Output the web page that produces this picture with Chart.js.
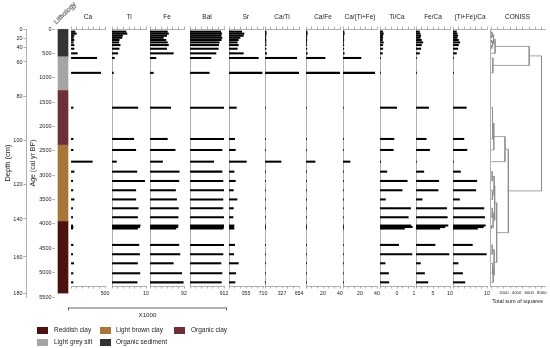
<!DOCTYPE html>
<html>
<head>
<meta charset="utf-8">
<script src="https://cdn.jsdelivr.net/npm/chart.js@4.4.1/dist/chart.umd.min.js"></script>
<style>
 body { margin: 0; background: #fff; overflow: hidden; }
 #page { position: relative; width: 550px; height: 348px; overflow: hidden; font-family: "Liberation Sans", Arial, sans-serif; color: #222; }
 #page canvas { position: absolute; top: 0; }
 .txt { position: absolute; white-space: nowrap; }
 .sw { position: absolute; width: 11px; height: 7px; }
</style>
</head>
<body>
<div id="page"></div>
<script>
// sample ages (cal yr BP)
const ages = [55, 95, 138, 180, 225, 275, 330, 405, 500, 595, 900, 1615, 2257, 2483, 2723, 2928, 3119, 3310, 3498, 3680, 3864, 4035, 4065, 4095, 4432, 4623, 4809, 5014, 5200];

const ca = [59, 78, 44, 34, 44, 34, 44, 44, 93, 378, 437, 30, 30, 30, 313, 45, 25, 28, 45, 25, 25, 25, 30, 25, 30, 25, 40, 30, 30];
const ti = [4.1, 4.4, 3.1, 2.9, 2.1, 2.0, 2.4, 2.1, 1.7, 0.7, 0.4, 7.6, 6.4, 7.0, 1.3, 7.3, 9.6, 7.0, 7.0, 7.7, 7.5, 8.3, 8.1, 7.5, 7.9, 8.1, 7.5, 8.2, 7.4];
const fe = [47, 50, 45, 36, 43, 47, 50, 45, 63, 16, 9, 56, 47, 68, 34, 79, 78, 69, 72, 77, 76, 76, 75, 70, 78, 81, 63, 86, 90];
const bal = [823, 850, 831, 858, 839, 785, 769, 758, 697, 563, 517, 903, 903, 858, 635, 858, 884, 912, 884, 884, 903, 903, 903, 890, 903, 884, 831, 858, 840];
const sr = [265, 313, 299, 230, 194, 173, 194, 173, 299, 612, 690, 153, 118, 132, 362, 105, 132, 91, 167, 91, 84, 105, 98, 105, 118, 98, 195, 140, 125];
const caTi = [20, 25, 18, 15, 20, 18, 20, 20, 30, 609, 654, 4, 5, 5, 308, 6, 3, 4, 6, 3, 3, 3, 4, 3, 4, 3, 5, 4, 4];
const caFe = [1.3, 1.6, 1.0, 0.9, 1.0, 0.8, 0.9, 1.0, 1.5, 22.4, 40, 0.5, 0.6, 0.5, 10.6, 0.6, 0.4, 0.4, 0.6, 0.4, 0.4, 0.4, 0.4, 0.4, 0.4, 0.4, 0.6, 0.4, 0.4];
const caTiFe = [1.2, 1.5, 0.9, 0.9, 1.0, 0.7, 0.9, 0.9, 1.4, 21.2, 37.3, 0.5, 0.6, 0.5, 8.2, 0.5, 0.3, 0.4, 0.6, 0.3, 0.3, 0.3, 0.4, 0.3, 0.4, 0.3, 0.6, 0.4, 0.4];
const tiCa = [0.08, 0.1, 0.08, 0.08, 0.07, 0.1, 0.08, 0.08, 0.07, 0.01, 0.01, 0.49, 0.41, 0.39, 0.02, 0.2, 0.8, 0.65, 0.16, 0.9, 0.83, 0.91, 0.95, 0.72, 0.55, 0.94, 0.15, 0.25, 0.26];
const feCa = [1.0, 1.2, 1.4, 1.2, 1.6, 2.0, 1.6, 1.4, 1.0, 0.05, 0.05, 3.7, 3.0, 4.0, 0.1, 2.3, 6.7, 6.5, 1.8, 9.0, 9.2, 9.4, 8.5, 7.0, 5.6, 9.7, 1.3, 2.5, 3.5];
const tiFeCa = [1.0, 1.2, 1.4, 1.2, 1.6, 2.0, 1.6, 1.4, 1.0, 0.05, 0.05, 3.9, 3.2, 4.1, 0.1, 2.2, 7.0, 6.7, 1.9, 9.1, 9.3, 9.5, 8.9, 7.2, 5.7, 9.8, 1.5, 2.8, 3.5];

const panelNames = ["Ca", "Ti", "Fe", "Bal", "Sr", "Ca/Ti", "Ca/Fe", "Ca/(Ti+Fe)", "Ti/Ca", "Fe/Ca", "(Ti+Fe)/Ca"];
const panelSeries = [ca, ti, fe, bal, sr, caTi, caFe, caTiFe, tiCa, feCa, tiFeCa];
const panelMax = [500, 10, 92, 912, 710, 654, 40, 40, 1, 10, 10];
const panelTickVals = [[500], [10], [92], [912], [355, 710], [327, 654], [20, 40], [20, 40], [0.5, 1], [5, 10], [10]];
const panelTickText = [["500"], ["10"], ["92"], ["912"], ["355", "710"], ["327", "654"], ["20", "40"], ["20", "40"], ["0", "1"], ["5", "10"], ["10"]];

// CONISS: [child a, child b, total sum of squares]; leaves are sample indices, merges get 29, 30, ...
const conissMerges = [
 [0, 1, 60], [2, 3, 80], [29, 30, 150], [4, 5, 70], [6, 7, 90], [32, 33, 200], [31, 34, 350],
 [35, 8, 600], [9, 10, 250], [36, 37, 6000],
 [11, 12, 200], [39, 13, 400], [40, 14, 2170],
 [15, 16, 150], [17, 18, 180], [42, 43, 450], [21, 22, 50], [45, 23, 80], [19, 20, 150],
 [47, 46, 300], [44, 48, 550], [24, 25, 150], [26, 27, 200], [51, 28, 300], [50, 52, 450],
 [49, 53, 860], [41, 54, 2700], [38, 55, 7950]
];
const conissTickVals = [2000, 4000, 6000, 8000];

const ageTickStep = 500;
const depthLabels = [0, 20, 40, 60, 80, 100, 120, 140, 160, 180];
const depthAges = [0, 185, 370, 677, 1395, 2298, 3181, 3899, 4679, 5438];

const lithoNames = ["Organic sediment", "Light grey silt", "Organic clay", "Light brown clay", "Reddish clay"];
const lithoTop = [0, 555, 1250, 2370, 3940];
const lithoBottom = [555, 1250, 2370, 3940, 5420];
const lithoColors = ["#333333", "#a5a5a5", "#6d3038", "#a8763a", "#4a1210"];

// layout
const AXIS = "#9a9a9a";
const PANEL_TOP = 29, PANEL_BOTTOM = 286, PANEL_AGE_MAX = 5275;
const panelLeft = [71, 112, 150, 190, 229, 265, 306, 343, 380, 416, 453];
const panelWidth = 34;

Chart.defaults.font.family = '"Liberation Sans", Arial, sans-serif';
Chart.defaults.color = "#222";

const page = document.getElementById("page");

function addCanvas(left, width) {
 const c = document.createElement("canvas");
 c.width = width;
 c.height = 348;
 c.style.left = left + "px";
 c.style.width = width + "px";
 c.style.height = "348px";
 page.appendChild(c);
 return c;
}

function addText(text, left, top, size, extra) {
 const d = document.createElement("div");
 d.className = "txt";
 d.textContent = text;
 d.style.left = left + "px";
 d.style.top = top + "px";
 d.style.fontSize = size + "px";
 d.style.lineHeight = size + 1 + "px";
 if (extra) Object.assign(d.style, extra);
 page.appendChild(d);
 return d;
}

function xAxis(o, pos) {
 const labelOf = (v) => {
  const k = o.labelVals.findIndex((l) => Math.abs(l - v) < 1e-6 * (o.max - o.min));
  return k < 0 ? "" : o.labelTexts[k];
 };
 const ax = {
  type: "linear",
  position: pos,
  min: o.min,
  max: o.max,
  offset: false,
  afterBuildTicks: (s) => {
   s.ticks = o.tickVals.map((v) => ({ value: v }));
  },
  grid: { drawOnChartArea: false, tickLength: 2.5, color: AXIS, lineWidth: 0.8, offset: false },
  border: { color: AXIS, width: 0.8 },
 };
 if (pos === "bottom") {
  ax.ticks = { autoSkip: false, maxRotation: 0, font: { size: o.tickFont }, color: "#222", padding: 2, callback: (v) => labelOf(v) };
  ax.afterFit = (s) => { s.height = 348 - PANEL_BOTTOM; s.paddingLeft = 0; s.paddingRight = 0; };
 } else {
  ax.ticks = { display: false };
  ax.title = { display: true, text: o.title, font: { size: 6.5 }, color: "#222", padding: { top: 13, bottom: 0 } };
  ax.afterFit = (s) => { s.height = PANEL_TOP; s.paddingLeft = 0; s.paddingRight = 0; };
 }
 return ax;
}

function makePanel(o) {
 const pad = 12;
 const canvas = addCanvas(o.left - pad, o.width + 2 * pad);
 return new Chart(canvas, {
  type: o.type,
  data: { datasets: o.datasets },
  options: {
   responsive: false,
   animation: false,
   indexAxis: o.type === "bar" ? "y" : "x",
   layout: { padding: { left: pad, right: pad, top: 0, bottom: 0 } },
   plugins: { legend: { display: false }, tooltip: { enabled: false } },
   scales: {
    x: xAxis(o, "bottom"),
    xTop: xAxis(o, "top"),
    y: {
     type: "linear",
     position: "left",
     min: 0,
     max: PANEL_AGE_MAX,
     reverse: true,
     offset: false,
     ticks: { display: false },
     grid: { display: false, offset: false },
     border: { display: o.border, color: AXIS, width: 0.8 },
     afterFit: (s) => { s.width = 0; s.paddingTop = 0; s.paddingBottom = 0; },
    },
   },
  },
 });
}

// depth axis
new Chart(addCanvas(0, 40), {
 type: "scatter",
 data: { datasets: [] },
 options: {
  responsive: false,
  animation: false,
  layout: { padding: { left: 0, right: 10, top: 29, bottom: 51 } },
  plugins: { legend: { display: false }, tooltip: { enabled: false } },
  scales: {
   x: { display: false },
   y: {
    type: "linear",
    min: 0,
    max: 5500,
    reverse: true,
    afterBuildTicks: (s) => { s.ticks = depthAges.map((v) => ({ value: v })); },
    ticks: { autoSkip: false, font: { size: 5.5 }, color: "#222", padding: 1, callback: (v, i) => String(depthLabels[i]) },
    grid: { drawOnChartArea: false, tickLength: 2.5, color: AXIS, lineWidth: 0.8 },
    border: { display: true, color: AXIS, width: 0.8 },
    title: { display: true, text: "Depth (cm)", font: { size: 7.5 }, color: "#222", padding: { top: 3, bottom: 0 } },
    afterFit: (s) => { s.width = 26; s.paddingTop = 0; s.paddingBottom = 0; },
   },
  },
 },
});

// lithology column + age axis
new Chart(addCanvas(0, 71), {
 type: "bar",
 data: {
  labels: ["Lithology"],
  datasets: lithoNames.map((n, i) => ({
   label: n,
   data: [[lithoTop[i], lithoBottom[i]]],
   backgroundColor: lithoColors[i],
   barThickness: 10,
   grouped: false,
  })),
 },
 options: {
  responsive: false,
  animation: false,
  layout: { padding: { left: 26, right: 0, top: 29, bottom: 51 } },
  plugins: { legend: { display: false }, tooltip: { enabled: false } },
  scales: {
   x: { display: false },
   y: {
    type: "linear",
    min: 0,
    max: 5500,
    reverse: true,
    ticks: { stepSize: ageTickStep, autoSkip: false, font: { size: 5.5 }, color: "#222", padding: 1, callback: (v) => String(v) },
    grid: { drawOnChartArea: false, tickLength: 2.5, color: AXIS, lineWidth: 0.8 },
    border: { display: false },
    title: { display: true, text: "Age (cal yr BP)", font: { size: 7 }, color: "#222", padding: { top: 3, bottom: 0 } },
    afterFit: (s) => { s.width = 29; s.paddingTop = 0; s.paddingBottom = 0; },
   },
  },
 },
});

// element and ratio panels
panelNames.forEach((name, i) => {
 const max = panelMax[i];
 const ticks = [];
 for (let k = 0; k <= 6; k++) ticks.push((max * k) / 6);
 makePanel({
  type: "bar",
  left: panelLeft[i],
  width: panelWidth,
  min: 0,
  max: max,
  tickVals: ticks,
  labelVals: panelTickVals[i],
  labelTexts: panelTickText[i],
  tickFont: 5.2,
  title: name,
  border: i > 0,
  datasets: [{
   data: ages.map((a, k) => ({ x: panelSeries[i][k], y: a })),
   backgroundColor: "#000",
   borderWidth: 0,
   barThickness: 1.4,
   xAxisID: "x",
   yAxisID: "y",
  }],
 });
});

// CONISS dendrogram
const nodeAge = ages.slice();
const nodeH = ages.map(() => 0);
const conissSets = [];
conissMerges.forEach(([a, b, h]) => {
 conissSets.push({
  data: [
   { x: nodeH[a], y: nodeAge[a] },
   { x: h, y: nodeAge[a] },
   { x: h, y: nodeAge[b] },
   { x: nodeH[b], y: nodeAge[b] },
  ],
  showLine: true,
  pointRadius: 0,
  borderColor: "#8a8a8a",
  borderWidth: 0.8,
  xAxisID: "x",
  yAxisID: "y",
 });
 nodeAge.push((nodeAge[a] + nodeAge[b]) / 2);
 nodeH.push(h);
});
const conissTicks = [];
for (let v = 0; v <= 8000; v += 1000) conissTicks.push(v);
makePanel({
 type: "scatter",
 left: 490,
 width: 55,
 min: -200,
 max: 8500,
 tickVals: conissTicks,
 labelVals: conissTickVals,
 labelTexts: conissTickVals.map(String),
 tickFont: 4.3,
 title: "CONISS",
 border: true,
 datasets: conissSets,
});

// texts outside the plots
addText("Lithology", 58, 18, 7, { transformOrigin: "0 100%", transform: "rotate(-45deg)" });
addText("Total sum of squares", 480, 298, 5.5, { width: "75px", textAlign: "center" });

const bar = document.createElement("div");
Object.assign(bar.style, { position: "absolute", left: "68px", top: "309px", width: "159px", height: "3px", borderTop: "0.8px solid #666", borderLeft: "0.8px solid #666", borderRight: "0.8px solid #666", boxSizing: "border-box", transform: "translateY(-1.5px)" });
page.appendChild(bar);
addText("X1000", 68, 310.5, 6.2, { width: "159px", textAlign: "center" });

// legend
const legendOrder = [4, 3, 2, 1, 0];
const legendPos = [[37, 54, 330], [100, 116, 330], [174, 191, 330], [37, 54, 342], [100, 116, 342]];
legendOrder.forEach((li, k) => {
 const [sx, tx, cy] = legendPos[k];
 const s = document.createElement("div");
 s.className = "sw";
 s.style.left = sx + "px";
 s.style.top = cy - 3.5 + "px";
 s.style.background = lithoColors[li];
 page.appendChild(s);
 addText(lithoNames[li], tx, cy - 4, 6.5);
});
</script>
</body>
</html>
